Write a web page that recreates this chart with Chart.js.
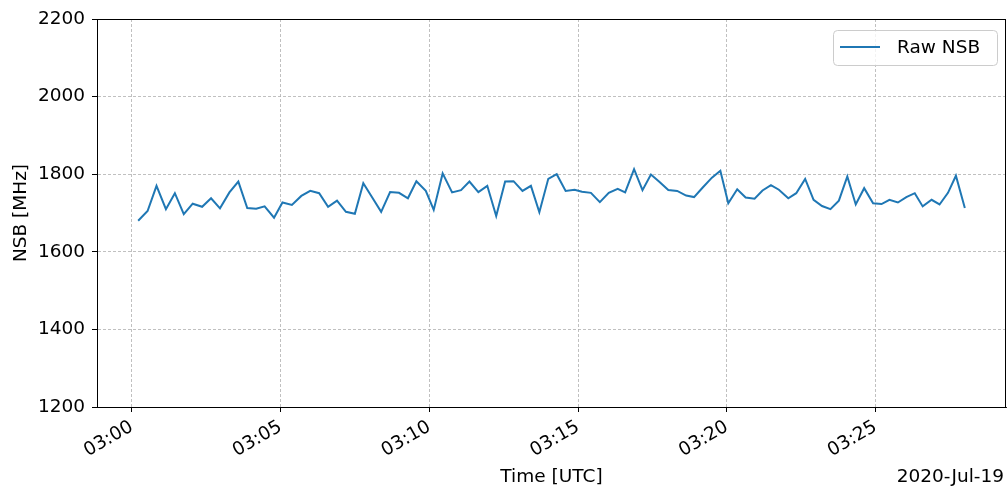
<!DOCTYPE html>
<html>
<head>
<meta charset="utf-8">
<script src="https://cdn.jsdelivr.net/npm/chart.js@4/dist/chart.umd.min.js"></script>
<style>
  body { margin: 0; background: #fff; }
  canvas { display: block; }
</style>
</head>
<body>
<canvas id="nsb" width="1008" height="486"></canvas>
<script>
// seconds after 03:00:00 UTC
const seconds = [13, 32, 50, 69, 87, 105, 123, 142, 160, 178, 197, 215, 233, 251, 268, 287,
  304, 323, 342, 360, 378, 396, 414, 432, 450, 467, 485, 503, 521, 539, 557, 574,
  593, 609, 627, 646, 664, 681, 699, 717, 735, 753, 770, 788, 805, 822, 840, 857,
  875, 893, 908, 926, 944, 962, 980, 995, 1013, 1030, 1047, 1065, 1082, 1100, 1118, 1134,
  1151, 1170, 1187, 1203, 1221, 1238, 1256, 1272, 1289, 1305, 1324, 1340, 1358, 1375, 1392, 1409,
  1426, 1443, 1460, 1477, 1495, 1512, 1528, 1545, 1562, 1579, 1595, 1613, 1629, 1646, 1662, 1680];
const rawNsb = [1680, 1705, 1770, 1710, 1751, 1697, 1724, 1716, 1738, 1712, 1753, 1781, 1713, 1711, 1717, 1688,
  1727, 1721, 1744, 1757, 1751, 1716, 1732, 1703, 1698, 1777, 1740, 1703, 1754, 1752, 1738, 1782,
  1757, 1708, 1802, 1753, 1759, 1781, 1754, 1770, 1692, 1781, 1782, 1757, 1770, 1702, 1788, 1800,
  1757, 1760, 1755, 1752, 1728, 1752, 1762, 1753, 1813, 1759, 1799, 1779, 1759, 1757, 1745, 1741,
  1765, 1791, 1809, 1725, 1761, 1740, 1737, 1758, 1772, 1760, 1738, 1751, 1788, 1734, 1718, 1710,
  1732, 1794, 1722, 1764, 1725, 1723, 1734, 1727, 1741, 1751, 1717, 1734, 1722, 1752, 1796, 1713];
const xTicks = [0, 300, 600, 900, 1200, 1500];
const yTicks = [1200, 1400, 1600, 1800, 2000, 2200];
const dateLabel = '2020-Jul-19';

const FONT = 'DejaVu Sans';
const SIZE = 18.5;
const gridColor = '#b0b0b0';

const points = seconds.map((s, i) => ({ x: s, y: rawNsb[i] }));

const extras = {
  id: 'extras',
  afterDraw(chart) {
    const ctx = chart.ctx;
    const a = chart.chartArea;
    ctx.save();
    // full frame
    ctx.strokeStyle = '#000';
    ctx.lineWidth = 1;
    ctx.setLineDash([]);
    ctx.strokeRect(a.left + 0.5, a.top + 0.5, a.right - a.left - 1, a.bottom - a.top);

    // legend
    const lx = a.right - 173, ly = a.top + 11, lw = 164, lh = 35;
    ctx.fillStyle = 'rgba(255,255,255,0.8)';
    ctx.strokeStyle = '#cccccc';
    ctx.beginPath();
    ctx.roundRect(lx + 0.5, ly + 0.5, lw, lh, 4);
    ctx.fill();
    ctx.stroke();
    ctx.strokeStyle = '#1f77b4';
    ctx.lineWidth = 2;
    ctx.beginPath();
    ctx.moveTo(lx + 7, ly + 17);
    ctx.lineTo(lx + 47, ly + 17);
    ctx.stroke();
    ctx.fillStyle = '#000';
    ctx.font = SIZE + 'px "' + FONT + '"';
    ctx.textAlign = 'left';
    ctx.textBaseline = 'middle';
    ctx.fillText('Raw NSB', lx + 64, ly + 18);

    // date label
    ctx.textAlign = 'right';
    ctx.fillText(dateLabel, 1004, 477);
    ctx.restore();
  }
};

new Chart(document.getElementById('nsb'), {
  type: 'line',
  data: {
    datasets: [{
      label: 'Raw NSB',
      data: points,
      borderColor: '#1f77b4',
      borderWidth: 2,
      pointRadius: 0,
      tension: 0,
      fill: false
    }]
  },
  options: {
    responsive: false,
    animation: false,
    layout: { padding: { top: 19, right: 2, left: 0, bottom: 0 } },
    plugins: { legend: { display: false }, tooltip: { enabled: false } },
    scales: {
      x: {
        type: 'linear',
        min: -70,
        max: 1763,
        afterBuildTicks: s => { s.ticks = xTicks.map(v => ({ value: v })); },
        afterFit: s => { s.height = 79; },
        ticks: {
          minRotation: 30,
          maxRotation: 30,
          padding: 4,
          color: '#000',
          font: { family: FONT, size: SIZE },
          callback: v => '03:' + String(Math.round(v / 60)).padStart(2, '0')
        },
        grid: {
          color: gridColor,
          lineWidth: 0.8,
          tickColor: '#000',
          tickWidth: 1,
          tickBorderDash: [],
          tickLength: 5
        },
        border: { display: true, color: '#000', width: 1, dash: [3, 2] },
        title: {
          display: true,
          text: 'Time [UTC]',
          color: '#000',
          font: { family: FONT, size: SIZE, lineHeight: 1 },
          padding: { top: 0, bottom: 0 }
        }
      },
      y: {
        min: 1200,
        max: 2200,
        afterBuildTicks: s => { s.ticks = yTicks.map(v => ({ value: v })); },
        afterFit: s => { s.width = 97; },
        ticks: {
          padding: 7,
          color: '#000',
          font: { family: FONT, size: SIZE },
          callback: v => String(v)
        },
        grid: {
          color: gridColor,
          lineWidth: 0.8,
          tickColor: '#000',
          tickWidth: 1,
          tickBorderDash: [],
          tickLength: 5
        },
        border: { display: true, color: '#000', width: 1, dash: [3, 2] },
        title: {
          display: true,
          text: 'NSB [MHz]',
          color: '#000',
          font: { family: FONT, size: SIZE },
          padding: { top: 10, bottom: 0 }
        }
      }
    }
  },
  plugins: [extras]
});
</script>
</body>
</html>
